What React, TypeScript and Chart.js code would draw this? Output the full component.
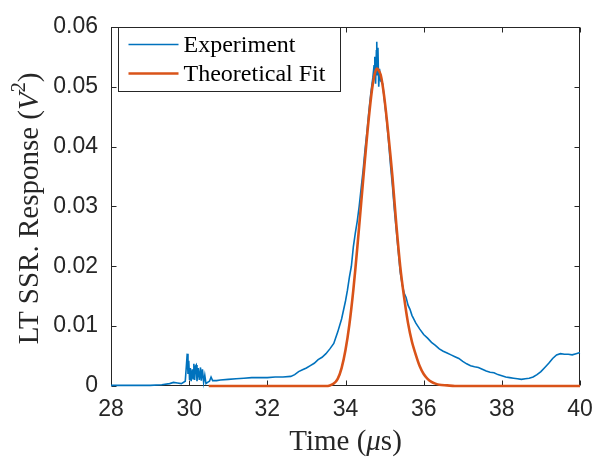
import React, { useEffect, useRef } from "react";
import { Chart, registerables } from "chart.js";

Chart.register(...registerables);

// ---------- data ----------
const expTime = [
  28.0, 28.5, 29.0, 29.3, 29.5, 29.6, 29.7, 29.8, 29.9, 29.93, 29.95, 29.97, 29.99,
  30.01, 30.03, 30.05, 30.08, 30.1, 30.12, 30.14, 30.16, 30.18, 30.2, 30.23, 30.26,
  30.29, 30.31, 30.34, 30.37, 30.4, 30.43, 30.47, 30.52, 30.56, 30.6, 30.7, 30.8,
  31.0, 31.2, 31.4, 31.6, 31.8, 32.0, 32.2, 32.4, 32.6, 32.7, 32.8, 32.9, 33.0,
  33.1, 33.2, 33.3, 33.4, 33.5, 33.6, 33.7, 33.8, 33.9, 34.0, 34.05, 34.1, 34.15,
  34.2, 34.25, 34.3, 34.35, 34.4, 34.45, 34.5, 34.55, 34.6, 34.65, 34.7, 34.73,
  34.75, 34.77, 34.79, 34.8, 34.81, 34.83, 34.85, 34.87, 34.9, 34.95, 35.0, 35.05,
  35.1, 35.15, 35.2, 35.25, 35.3, 35.35, 35.4, 35.45, 35.5, 35.55, 35.6, 35.65,
  35.7, 35.8, 35.9, 36.0, 36.1, 36.2, 36.3, 36.4, 36.5, 36.6, 36.7, 36.8, 36.9,
  37.0, 37.1, 37.2, 37.3, 37.4, 37.5, 37.6, 37.7, 37.8, 37.9, 38.0, 38.1, 38.2,
  38.3, 38.4, 38.5, 38.6, 38.7, 38.8, 38.9, 39.0, 39.1, 39.2, 39.3, 39.4, 39.5,
  39.6, 39.7, 39.8, 39.9, 40.0,
];
const expValue = [
  0.0001, 0.0001, 0.0001, 0.0002, 0.0004, 0.0006, 0.0005, 0.0004, 0.0008, 0.0035, 0.0054, 0.002, 0.0042,
  0.001, 0.003, 0.0008, 0.0028, 0.0012, 0.0037, 0.001, 0.0033, 0.0035, 0.0008, 0.003, 0.001,
  0.0031, 0.0009, 0.0028, 0.0006, 0.0018, 0.0004, 0.0006, 0.0008, 0.0015, 0.0009, 0.0009, 0.001,
  0.0011, 0.0012, 0.0013, 0.0014, 0.0014, 0.0014, 0.0015, 0.0015, 0.0016, 0.0019, 0.0024, 0.0027, 0.003,
  0.0034, 0.0038, 0.0044, 0.0048, 0.0054, 0.0062, 0.0071, 0.009, 0.0112, 0.0142, 0.016, 0.0182, 0.02,
  0.0232, 0.0255, 0.0275, 0.03, 0.033, 0.036, 0.0395, 0.0425, 0.046, 0.049, 0.0515, 0.0535,
  0.055, 0.0505, 0.056, 0.0575, 0.052, 0.0565, 0.05, 0.053, 0.051, 0.0505, 0.0475, 0.0445,
  0.041, 0.037, 0.0335, 0.0295, 0.026, 0.0225, 0.019, 0.017, 0.0155, 0.0148, 0.0135, 0.0128,
  0.0118, 0.0105, 0.0095, 0.0086, 0.008, 0.0073, 0.0068, 0.0062, 0.0058, 0.0055, 0.0052, 0.0049, 0.0046,
  0.0041, 0.0037, 0.0034, 0.0032, 0.0031, 0.0028, 0.0025, 0.0023, 0.0022, 0.0019, 0.0017, 0.0015, 0.0014,
  0.0013, 0.0012, 0.0011, 0.0012, 0.0013, 0.0015, 0.0019, 0.0024, 0.0031, 0.0038, 0.0046, 0.0052, 0.0054,
  0.0053, 0.0053, 0.0052, 0.0054, 0.0056,
];

const fitTime = [
  30.5, 33.5, 33.6, 33.7, 33.8, 33.9, 34.0, 34.1, 34.2, 34.3, 34.4, 34.5, 34.6, 34.7,
  34.8, 34.9, 35.0, 35.1, 35.2, 35.3, 35.4, 35.5, 35.6, 35.7, 35.8, 35.9, 36.0, 36.1,
  36.2, 36.3, 36.4, 36.6, 36.8, 40.0,
];
const fitValue = [
  0, 0, 0.0001, 0.0004, 0.0012, 0.003, 0.006, 0.0103, 0.016, 0.023, 0.0305, 0.038, 0.045, 0.0505,
  0.053, 0.052, 0.0478, 0.0418, 0.035, 0.027, 0.02, 0.0148, 0.0105, 0.0074, 0.0052, 0.0033, 0.002, 0.0012,
  0.0007, 0.0004, 0.0002, 0.0001, 0, 0,
];

const seriesNames = ["Experiment", "Theoretical Fit"];
const xTicks = [28, 30, 32, 34, 36, 38, 40];
const yTicks = [0, 0.01, 0.02, 0.03, 0.04, 0.05, 0.06];
const yTickLabels = ["0", "0.01", "0.02", "0.03", "0.04", "0.05", "0.06"];

const BLUE = "#0072BD";
const RED = "#D95319";
const AXIS = "#262626";
const SERIF = "'Liberation Serif', 'Times New Roman', serif";
const SANS = "'Liberation Sans', Arial, sans-serif";

type Piece = { t: string; italic?: boolean; sup?: boolean };

function drawPieces(ctx: CanvasRenderingContext2D, pieces: Piece[], size: number) {
  const fontOf = (p: Piece) =>
    `${p.italic ? "italic " : ""}${p.sup ? Math.round(size * 0.7) : size}px ${SERIF}`;
  let total = 0;
  const widths = pieces.map((p) => {
    ctx.font = fontOf(p);
    const w = ctx.measureText(p.t).width;
    total += w;
    return w;
  });
  let x = -total / 2;
  ctx.textAlign = "left";
  ctx.textBaseline = "middle";
  pieces.forEach((p, i) => {
    ctx.font = fontOf(p);
    ctx.fillText(p.t, x, p.sup ? -size * 0.35 : 0);
    x += widths[i];
  });
}

const framePlugin = {
  id: "frame",
  beforeDatasetsDraw(chart: any) {
    const { ctx, chartArea: a, scales } = chart;
    const L = Math.round(a.left) + 0.5;
    const R = Math.round(a.right) - 0.5;
    const T = Math.round(a.top) + 0.5;
    const B = Math.round(a.bottom) - 0.5;
    ctx.save();
    ctx.strokeStyle = AXIS;
    ctx.lineWidth = 1;
    ctx.strokeRect(L, T, R - L, B - T);
    const tl = 5;
    ctx.beginPath();
    xTicks.forEach((v) => {
      const px = Math.round(scales.x.getPixelForValue(v)) + 0.5;
      ctx.moveTo(px, B);
      ctx.lineTo(px, B - tl);
      ctx.moveTo(px, T);
      ctx.lineTo(px, T + tl);
    });
    yTicks.forEach((v) => {
      const py = Math.round(scales.y.getPixelForValue(v)) + 0.5;
      ctx.moveTo(L, py);
      ctx.lineTo(L + tl, py);
      ctx.moveTo(R, py);
      ctx.lineTo(R - tl, py);
    });
    ctx.stroke();
    ctx.restore();
  },
};

const overlayPlugin = {
  id: "overlay",
  afterDatasetsDraw(chart: any) {
    const { ctx, chartArea: a } = chart;
    ctx.save();
    // legend
    const bx = 118.5, by = 27.5, bw = 222, bh = 64;
    ctx.fillStyle = "#ffffff";
    ctx.fillRect(bx, by, bw, bh);
    ctx.strokeStyle = AXIS;
    ctx.lineWidth = 1;
    ctx.strokeRect(bx, by, bw, bh);
    const rows = [
      { y: by + 17, color: BLUE, width: 1.6 },
      { y: by + 46, color: RED, width: 2.6 },
    ];
    rows.forEach((r, i) => {
      ctx.beginPath();
      ctx.strokeStyle = r.color;
      ctx.lineWidth = r.width;
      ctx.moveTo(bx + 10, r.y);
      ctx.lineTo(bx + 60, r.y);
      ctx.stroke();
      ctx.fillStyle = "#000000";
      ctx.font = `24px ${SERIF}`;
      ctx.textAlign = "left";
      ctx.textBaseline = "middle";
      ctx.fillText(seriesNames[i], bx + 65, r.y + 1);
    });
    // axis titles
    ctx.fillStyle = "#262626";
    ctx.save();
    ctx.translate((a.left + a.right) / 2, a.bottom + 56);
    drawPieces(ctx, [{ t: "Time (" }, { t: "\u03BC", italic: true }, { t: "s)" }], 29);
    ctx.restore();
    ctx.save();
    ctx.translate(30, (a.top + a.bottom) / 2 + 2);
    ctx.rotate(-Math.PI / 2);
    drawPieces(
      ctx,
      [{ t: "LT SSR. Response (" }, { t: "V", italic: true }, { t: "2", sup: true }, { t: ")" }],
      29
    );
    ctx.restore();
    ctx.restore();
  },
};

export default function App() {
  const ref = useRef<HTMLCanvasElement | null>(null);
  useEffect(() => {
    if (!ref.current) return;
    const chart = new Chart(ref.current, {
      type: "line",
      data: {
        datasets: [
          {
            label: seriesNames[0],
            data: expTime.map((t, i) => ({ x: t, y: expValue[i] })),
            borderColor: BLUE,
            borderWidth: 1.6,
            pointRadius: 0,
            tension: 0,
            clip: false as any,
            order: 1,
          },
          {
            label: seriesNames[1],
            data: fitTime.map((t, i) => ({ x: t, y: fitValue[i] })),
            borderColor: RED,
            borderWidth: 2.6,
            pointRadius: 0,
            tension: 0.3,
            clip: false as any,
            order: 0,
          },
        ],
      },
      options: {
        animation: false,
        responsive: false,
        devicePixelRatio: 1,
        layout: { padding: { left: 0, right: 25, top: 18, bottom: 0 } },
        plugins: { legend: { display: false }, tooltip: { enabled: false } },
        scales: {
          x: {
            type: "linear",
            min: 28,
            max: 40,
            grid: { display: false, drawTicks: false },
            border: { display: false },
            afterBuildTicks: (s: any) => {
              s.ticks = xTicks.map((v) => ({ value: v }));
            },
            afterFit: (s: any) => {
              s.height = 73;
            },
            ticks: {
              font: { family: SANS, size: 23 },
              color: AXIS,
              padding: 10,
              maxRotation: 0,
              autoSkip: false,
            },
          },
          y: {
            type: "linear",
            min: 0,
            max: 0.06,
            grid: { display: false, drawTicks: false },
            border: { display: false },
            afterBuildTicks: (s: any) => {
              s.ticks = yTicks.map((v) => ({ value: v }));
            },
            afterFit: (s: any) => {
              s.width = 111;
            },
            ticks: {
              font: { family: SANS, size: 23 },
              color: AXIS,
              padding: 13,
              autoSkip: false,
              callback: (_v: any, i: number) => yTickLabels[i],
            },
          },
        },
      },
      plugins: [framePlugin, overlayPlugin],
    });
    return () => chart.destroy();
  }, []);
  return (
    <canvas
      ref={ref}
      width={605}
      height={459}
      style={{ position: "fixed", left: 0, top: 0, width: 605, height: 459 }}
    />
  );
}
